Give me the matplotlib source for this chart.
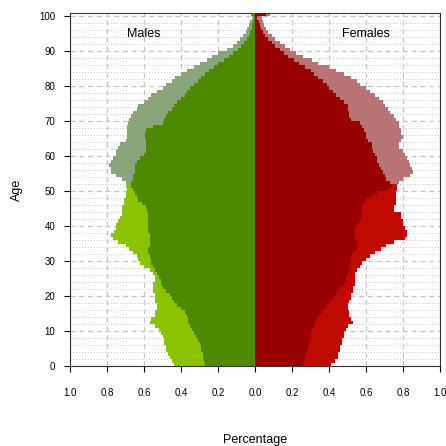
import numpy as np
import matplotlib.pyplot as plt

plt.rcParams['font.family'] = ['Liberation Sans', 'DejaVu Sans']

ages = np.arange(0, 101)

# outer population (lighter colours), values read per single year of age
male_outer = [0.44, 0.45, 0.46, 0.47, 0.48, 0.48, 0.49, 0.49, 0.50, 0.51,
              0.52, 0.54, 0.57, 0.56, 0.54, 0.54, 0.53, 0.53, 0.54, 0.54,
              0.54, 0.55, 0.55, 0.55, 0.54, 0.54, 0.55, 0.57, 0.60, 0.62,
              0.63, 0.64, 0.66, 0.68, 0.70, 0.74, 0.77, 0.78, 0.76, 0.75,
              0.75, 0.74, 0.73, 0.72, 0.72, 0.72, 0.71, 0.71, 0.70, 0.70,
              0.69, 0.70, 0.70, 0.72, 0.75, 0.78, 0.78, 0.79, 0.78, 0.77,
              0.75, 0.75, 0.74, 0.73, 0.70, 0.69, 0.69, 0.69, 0.69, 0.685,
              0.68, 0.67, 0.66, 0.64, 0.63, 0.60, 0.58, 0.56, 0.53, 0.50,
              0.48, 0.45, 0.43, 0.40, 0.37, 0.33, 0.30, 0.26, 0.23, 0.20,
              0.15, 0.12, 0.10, 0.08, 0.065, 0.05, 0.045, 0.035, 0.025, 0.018,
              0.02]
male_inner = [0.27, 0.275, 0.28, 0.28, 0.29, 0.29, 0.30, 0.31, 0.32, 0.33,
              0.34, 0.35, 0.36, 0.36, 0.37, 0.38, 0.40, 0.42, 0.44, 0.45,
              0.46, 0.48, 0.50, 0.51, 0.51, 0.52, 0.53, 0.54, 0.55, 0.56,
              0.56, 0.57, 0.58, 0.58, 0.57, 0.57, 0.57, 0.57, 0.58, 0.58,
              0.58, 0.58, 0.58, 0.58, 0.585, 0.59, 0.61, 0.63, 0.64, 0.65,
              0.66, 0.67, 0.67, 0.66, 0.66, 0.65, 0.65, 0.65, 0.64, 0.62,
              0.60, 0.59, 0.59, 0.59, 0.59, 0.595, 0.595, 0.59, 0.55, 0.50,
              0.49, 0.48, 0.47, 0.45, 0.44, 0.42, 0.40, 0.38, 0.37, 0.35,
              0.33, 0.31, 0.29, 0.27, 0.25, 0.22, 0.20, 0.17, 0.14, 0.12,
              0.09, 0.075, 0.06, 0.045, 0.035, 0.025, 0.018, 0.014, 0.01, 0.008,
              0.015]
female_outer = [0.41, 0.43, 0.45, 0.45, 0.46, 0.46, 0.47, 0.47, 0.48, 0.48,
                0.49, 0.50, 0.53, 0.52, 0.51, 0.51, 0.50, 0.50, 0.51, 0.52,
                0.52, 0.53, 0.53, 0.54, 0.54, 0.54, 0.54, 0.55, 0.57, 0.58,
                0.60, 0.62, 0.65, 0.68, 0.71, 0.75, 0.81, 0.82, 0.82, 0.81,
                0.80, 0.80, 0.79, 0.79, 0.75, 0.75, 0.76, 0.76, 0.76, 0.76,
                0.77, 0.77, 0.78, 0.80, 0.84, 0.855, 0.85, 0.84, 0.83, 0.82,
                0.81, 0.80, 0.78, 0.78, 0.79, 0.80, 0.79, 0.79, 0.78, 0.78,
                0.76, 0.75, 0.73, 0.72, 0.70, 0.69, 0.67, 0.65, 0.62, 0.60,
                0.57, 0.55, 0.52, 0.48, 0.44, 0.40, 0.34, 0.31, 0.26, 0.22,
                0.19, 0.16, 0.135, 0.11, 0.09, 0.07, 0.06, 0.05, 0.045, 0.04,
                0.08]
female_inner = [0.26, 0.265, 0.27, 0.275, 0.28, 0.285, 0.29, 0.295, 0.30, 0.305,
                0.31, 0.32, 0.325, 0.335, 0.345, 0.36, 0.38, 0.39, 0.40, 0.42,
                0.44, 0.45, 0.46, 0.48, 0.49, 0.49, 0.50, 0.51, 0.51, 0.52,
                0.52, 0.525, 0.53, 0.55, 0.55, 0.55, 0.54, 0.54, 0.54, 0.54,
                0.55, 0.57, 0.577, 0.58, 0.58, 0.58, 0.585, 0.60, 0.63, 0.66,
                0.72, 0.74, 0.73, 0.71, 0.70, 0.69, 0.68, 0.67, 0.66, 0.66,
                0.65, 0.64, 0.63, 0.63, 0.61, 0.60, 0.60, 0.59, 0.58, 0.57,
                0.52, 0.51, 0.51, 0.50, 0.50, 0.48, 0.46, 0.44, 0.42, 0.40,
                0.39, 0.37, 0.34, 0.32, 0.30, 0.27, 0.24, 0.21, 0.18, 0.155,
                0.135, 0.11, 0.09, 0.07, 0.055, 0.045, 0.035, 0.025, 0.02, 0.012,
                0.06]

split_age = 52  # outer colours change from here on
male_outer_cols = ['#8cc300', '#8ba57b']
female_outer_cols = ['#be0a00', '#b87474']
male_inner_col = '#4e8a00'
female_inner_col = '#990000'

xticks = [-1.0, -0.8, -0.6, -0.4, -0.2, 0.0, 0.2, 0.4, 0.6, 0.8, 1.0]
xticklabels = ['1.0', '0.8', '0.6', '0.4', '0.2', '0.0', '0.2', '0.4', '0.6', '0.8', '1.0']

fig = plt.figure(figsize=(4.46, 4.46), dpi=100)
ax = fig.add_axes([70 / 446, 80 / 446, 370 / 446, 353 / 446])

# grid
for y in range(0, 101, 2):
    if y % 10 == 0:
        ax.axhline(y, color='#c4c4c4', lw=0.9, ls=(0, (4, 3)), zorder=0)
    else:
        ax.axhline(y, color='#c4c4c4', lw=0.7, ls=(0, (1, 2)), zorder=0)
for x in xticks:
    ax.axvline(x, color='#c4c4c4', lw=0.9, ls=(0, (4, 3)), zorder=0)

mo = np.array(male_outer)
mi = np.array(male_inner)
fo = np.array(female_outer)
fi = np.array(female_inner)
old = ages >= split_age
mcol = np.where(old, male_outer_cols[1], male_outer_cols[0])
fcol = np.where(old, female_outer_cols[1], female_outer_cols[0])

ax.barh(ages, -mo, height=1, align='edge', color=mcol, lw=0, zorder=2)
ax.barh(ages, fo, height=1, align='edge', color=fcol, lw=0, zorder=2)
ax.barh(ages, -mi, height=1, align='edge', color=male_inner_col, lw=0, zorder=3)
ax.barh(ages, fi, height=1, align='edge', color=female_inner_col, lw=0, zorder=3)

ax.set_xlim(-1, 1)
ax.set_ylim(0, 101)
ax.set_xticks(xticks)
ax.set_xticklabels(xticklabels)
ax.set_yticks(range(0, 101, 10))
ax.tick_params(axis='x', length=4, width=0.8, pad=12, labelsize=7)
ax.tick_params(axis='y', length=4.5, width=0.8, pad=6, labelsize=7)
for s in ax.spines.values():
    s.set_linewidth(0.8)
    s.set_color('#333333')

ax.text(-0.6, 95, 'Males', ha='center', va='center', fontsize=9)
ax.text(0.6, 95, 'Females', ha='center', va='center', fontsize=9)
ax.set_xlabel('Percentage', fontsize=9, labelpad=26)
ax.set_ylabel('Age', fontsize=9, labelpad=12)

fig.savefig('out.png', dpi=100)
